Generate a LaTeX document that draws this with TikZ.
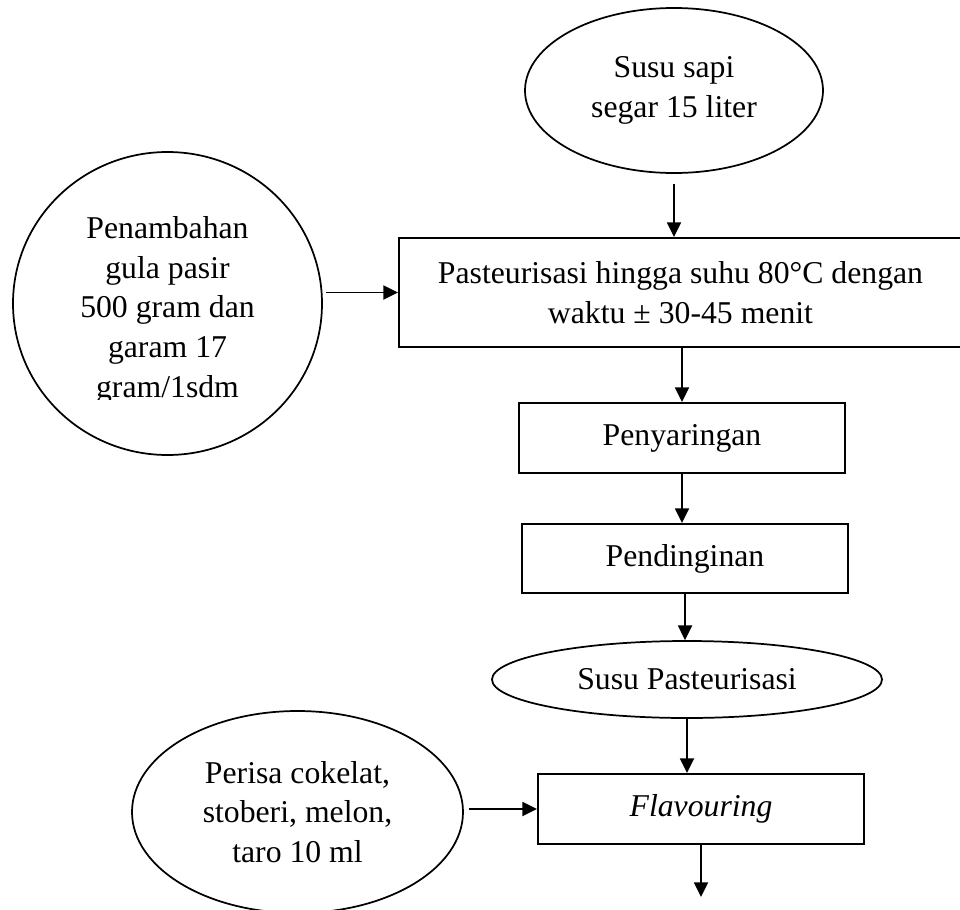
\documentclass[tikz,border=0pt]{standalone}
\usepackage{fontspec}
\setmainfont{Liberation Serif}
\usetikzlibrary{arrows.meta, shapes.geometric}

\begin{document}
\begin{tikzpicture}[x=0.75pt, y=-0.75pt,
    font=\fontsize{23.8}{29.8}\selectfont,
    proses/.style={draw, line width=1.5pt, inner sep=0pt, align=center},
    bahan/.style={draw, ellipse, line width=1.3pt, inner sep=0pt, align=center},
    panah/.style={line width=1.4pt, -{Triangle[length=11pt, width=10.5pt]}}]
      \clip (0,0) rectangle (960,910);

      \node[bahan, minimum width=223.5pt, minimum height=123.75pt] (susu) at (674,90.5) {Susu sapi\\segar 15 liter};
      \node[proses, minimum width=422.25pt, minimum height=81.75pt] (pasteur) at (680.5,292.5) {Pasteurisasi hingga suhu 80°C dengan\\waktu ± 30-45 menit};
      \node[proses, minimum width=244.5pt, minimum height=52.5pt] (saring) at (682,438) {Penyaringan};
      \node[proses, minimum width=244.5pt, minimum height=51.75pt] (dingin) at (685,558.5) {Pendinginan};
      \node[bahan, minimum width=292.5pt, minimum height=57.75pt] (hasil) at (687,679.5) {Susu Pasteurisasi};
      \node[proses, minimum width=244.5pt, minimum height=52.5pt] (flavour) at (701,809) {\textit{Flavouring}};
      \coordinate (akhir) at (701,897);

      \node[bahan, minimum width=231.75pt, minimum height=227.25pt] (gula) at (167.5,303.5) {};
      \begin{scope}
        \clip (0,0) rectangle (400,399);
        \node[align=center, yshift=-5pt] at (gula) {Penambahan\\gula pasir\\500 gram dan\\garam 17\\gram/1sdm};
      \end{scope}
      \node[bahan, minimum width=248.25pt, minimum height=151.5pt] (perisa) at (297.5,812) {Perisa cokelat,\\stoberi, melon,\\taro 10 ml};

      \draw[panah, shorten <=7.5pt] (susu.south) -- (susu.south |- pasteur.north);
      \draw[panah] (pasteur.south -| saring.north) -- (saring.north);
      \draw[panah] (saring.south) -- (saring.south |- dingin.north);
      \draw[panah] (dingin.south) -- (dingin.south |- hasil.north);
      \draw[panah] (hasil.south) -- (hasil.south |- flavour.north);
      \draw[panah] (flavour.south) -- (akhir);
      \draw[panah, shorten <=2.5pt] (gula.east |- pasteur.west) -- (pasteur.west);
      \draw[panah, shorten <=3.75pt] (perisa.east |- flavour.west) -- (flavour.west);
\end{tikzpicture}
\end{document}
